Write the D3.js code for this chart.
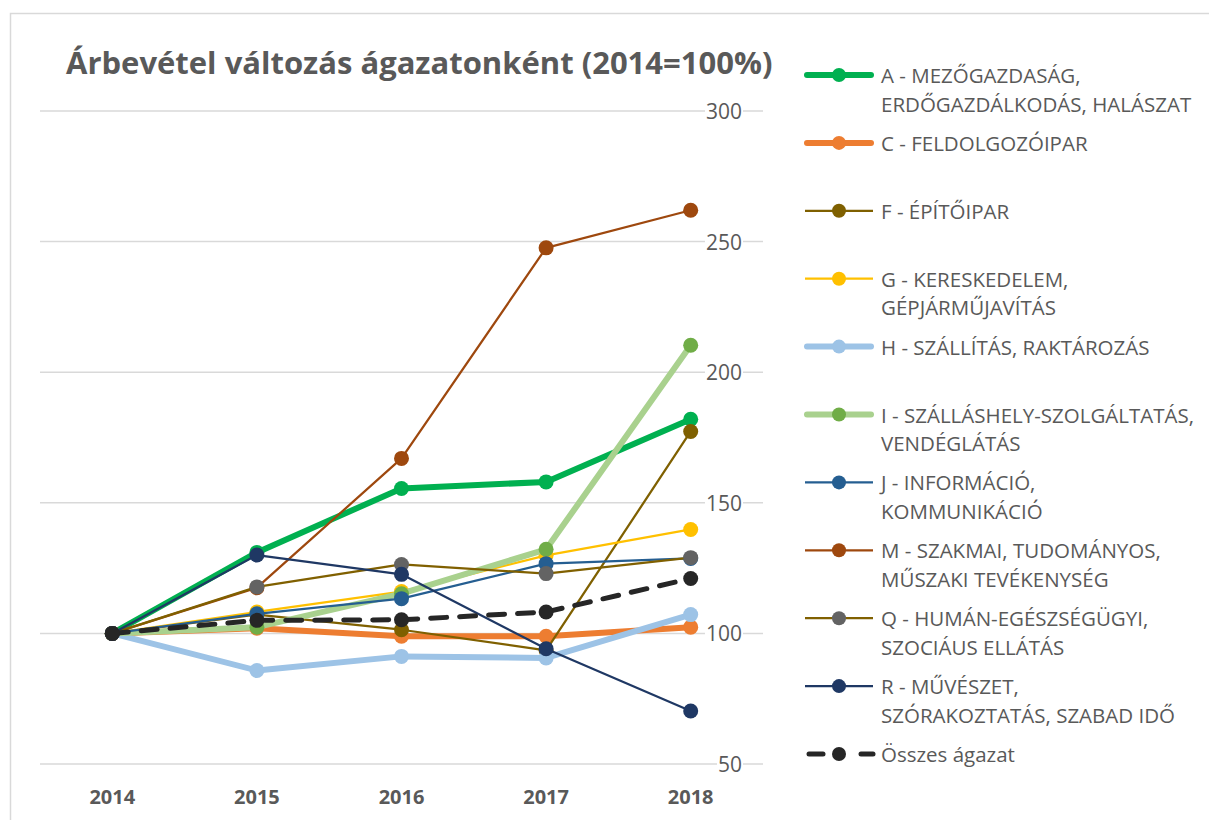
<!DOCTYPE html>
<html>
<head>
<meta charset="utf-8">
<script src="https://cdn.jsdelivr.net/npm/d3@7"></script>
<style>
  body { margin: 0; background: #fff; }
  text { font-family: "Open Sans", sans-serif; fill: #595959; }
</style>
</head>
<body>
<svg id="chart" width="1209" height="820"></svg>
<script>
// ---- data (2014 = 100%) ----
const years = ["2014", "2015", "2016", "2017", "2018"];
const yTicks = [50, 100, 150, 200, 250, 300];

const seriesNames = [
  ["A - MEZŐGAZDASÁG,", "ERDŐGAZDÁLKODÁS, HALÁSZAT"],
  ["C - FELDOLGOZÓIPAR"],
  ["F - ÉPÍTŐIPAR"],
  ["G - KERESKEDELEM,", "GÉPJÁRMŰJAVÍTÁS"],
  ["H - SZÁLLÍTÁS, RAKTÁROZÁS"],
  ["I - SZÁLLÁSHELY-SZOLGÁLTATÁS,", "VENDÉGLÁTÁS"],
  ["J - INFORMÁCIÓ,", "KOMMUNIKÁCIÓ"],
  ["M - SZAKMAI, TUDOMÁNYOS,", "MŰSZAKI TEVÉKENYSÉG"],
  ["Q - HUMÁN-EGÉSZSÉGÜGYI,", "SZOCIÁUS ELLÁTÁS"],
  ["R - MŰVÉSZET,", "SZÓRAKOZTATÁS, SZABAD IDŐ"],
  ["Összes ágazat"]
];

const valA = [100, 131, 155.5, 158, 182];
const valC = [100, 102, 98.9, 98.9, 102.4];
const valF = [100, 107.2, 101.4, 93.5, 177.3];
const valG = [100, 108.2, 116, 129.9, 139.8];
const valH = [100, 85.8, 91.2, 90.6, 107.2];
const valI = [100, 102.4, 115.2, 132.2, 210.3];
const valJ = [100, 107.5, 113.3, 126.7, 128.7];
const valM = [100, 117.5, 167, 247.6, 262];
const valQ = [100, 117.8, 126.4, 122.9, 129];
const valR = [100, 130, 122.6, 94.1, 70.3];
const valTotal = [100, 105, 105.2, 108.2, 121];

// line colour, marker colour, width, dashed
const styles = [
  { line: "#00B050", dot: "#00B050", w: 6 },
  { line: "#ED7D31", dot: "#ED7D31", w: 6 },
  { line: "#7F6000", dot: "#7F6000", w: 2.25 },
  { line: "#FFC000", dot: "#FFC000", w: 2.25 },
  { line: "#9DC3E6", dot: "#9DC3E6", w: 6 },
  { line: "#A9D18E", dot: "#70AD47", w: 6 },
  { line: "#255E91", dot: "#255E91", w: 2.25 },
  { line: "#9E480E", dot: "#9E480E", w: 2.25 },
  { line: "#806000", dot: "#636363", w: 2.25 },
  { line: "#1F3864", dot: "#1F3864", w: 2.25 },
  { line: "#262626", dot: "#262626", w: 5, dash: "16,13" }
];

const allValues = [valA, valC, valF, valG, valH, valI, valJ, valM, valQ, valR, valTotal];
const series = allValues.map((v, i) => ({ name: seriesNames[i], values: v, style: styles[i] }));

// ---- layout ----
const svg = d3.select("#chart");

// chart frame (cut off on right/bottom like the screenshot)
svg.append("rect")
  .attr("x", 10.5).attr("y", 13.5)
  .attr("width", 1300).attr("height", 900)
  .attr("fill", "#fff").attr("stroke", "#d9d9d9").attr("stroke-width", 1.5);

const x = d3.scaleBand().domain(years).range([40, 763]);
const cx = d => x(d) + x.bandwidth() / 2;
const y = d3.scaleLinear().domain([50, 300]).range([764, 111]);

// gridlines
svg.append("g").selectAll("line")
  .data(yTicks).join("line")
  .attr("x1", 40).attr("x2", 763)
  .attr("y1", d => y(d)).attr("y2", d => y(d))
  .attr("stroke", "#d9d9d9").attr("stroke-width", 1.5);

// right-hand value axis labels
const yLab = svg.append("g").selectAll("g").data(yTicks).join("g");
yLab.append("text")
  .attr("x", 742).attr("y", d => y(d))
  .attr("text-anchor", "end").attr("dominant-baseline", "central")
  .style("font-size", "21px")
  .text(d => d);
yLab.each(function () {
  const t = d3.select(this).select("text");
  const b = t.node().getBBox();
  d3.select(this).insert("rect", "text")
    .attr("x", b.x - 1).attr("y", b.y + 3).attr("width", b.width + 2).attr("height", b.height - 6)
    .attr("fill", "#fff");
});

// category labels
svg.append("g").selectAll("text")
  .data(years).join("text")
  .attr("x", cx).attr("y", 796)
  .attr("text-anchor", "middle").attr("dominant-baseline", "central")
  .style("font-size", "20px").style("font-weight", "bold")
  .text(d => d);

// title
svg.append("text")
  .attr("x", 66).attr("y", 74)
  .style("font-size", "31px").style("font-weight", "bold")
  .text("Árbevétel változás ágazatonként (2014=100%)");

// series
const line = d3.line().x((d, i) => cx(years[i])).y(d => y(d));
const plot = svg.append("g");
series.forEach(s => {
  const g = plot.append("g");
  g.append("path")
    .attr("d", line(s.values))
    .attr("fill", "none")
    .attr("stroke", s.style.line)
    .attr("stroke-width", s.style.w)
    .attr("stroke-linejoin", "round")
    .attr("stroke-linecap", "round")
    .attr("stroke-dasharray", s.style.dash || null);
  g.selectAll("circle").data(s.values).join("circle")
    .attr("cx", (d, i) => cx(years[i])).attr("cy", d => y(d))
    .attr("r", 7.5).attr("fill", s.style.dot);
});

// legend
const legend = svg.append("g");
series.forEach((s, i) => {
  const ly = 75 + i * 67.9;
  const g = legend.append("g").attr("transform", `translate(0,${ly})`);
  const thick = s.style.w >= 5;
  const segs = s.style.dash ? [[809, 823], [861, 873]] : [[thick ? 807 : 805, thick ? 871 : 873]];
  segs.forEach(([a, b]) => {
    g.append("line")
      .attr("x1", a).attr("x2", b)
      .attr("stroke", s.style.line).attr("stroke-width", s.style.w)
      .attr("stroke-linecap", thick ? "round" : "butt");
  });
  g.append("circle").attr("cx", 839).attr("r", 7).attr("fill", s.style.dot);
  s.name.forEach((t, k) => {
    g.append("text")
      .attr("x", 881).attr("y", k * 28.5)
      .attr("dominant-baseline", "central")
      .style("font-size", "20.5px")
      .text(t);
  });
});
</script>
</body>
</html>
